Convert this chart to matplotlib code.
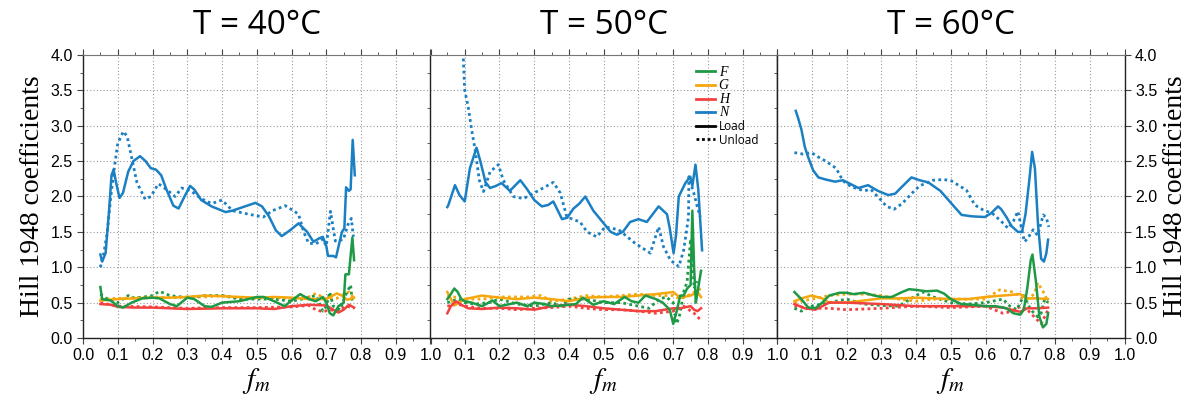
import numpy as np
import matplotlib.pyplot as plt
from matplotlib.ticker import MultipleLocator
from matplotlib.lines import Line2D

plt.rcParams["mathtext.fontset"] = "stix"
plt.rcParams["font.family"] = ["Liberation Sans", "DejaVu Sans"]

# ---------------------------------------------------------------------------
# Data: (f_m, value) pairs for each coefficient
# ---------------------------------------------------------------------------
temps = ["40", "50", "60"]
coef_names = ["F", "G", "H", "N"]
colors = {"F": "#1e9a46", "G": "#f5a70d", "H": "#f2423f", "N": "#1a7fc3"}

# T = 40 C
N40_load = [(0.05, 1.18), (0.055, 1.08), (0.065, 1.2), (0.075, 1.8), (0.082, 2.3), (0.088, 2.38),
            (0.095, 2.2), (0.105, 1.98), (0.115, 2.05), (0.13, 2.35), (0.145, 2.5), (0.164, 2.57),
            (0.18, 2.5), (0.195, 2.4), (0.21, 2.38), (0.225, 2.3), (0.24, 2.1), (0.26, 1.87),
            (0.275, 1.83), (0.29, 1.98), (0.308, 2.15), (0.32, 2.1), (0.34, 1.95), (0.37, 1.86),
            (0.39, 1.82), (0.41, 1.78), (0.43, 1.8), (0.46, 1.85), (0.496, 1.91), (0.515, 1.86),
            (0.535, 1.72), (0.555, 1.52), (0.572, 1.44), (0.595, 1.52), (0.62, 1.62), (0.645, 1.5),
            (0.663, 1.36), (0.68, 1.41), (0.69, 1.43), (0.7, 1.3), (0.705, 1.16), (0.72, 1.16),
            (0.728, 1.14), (0.745, 1.5), (0.752, 1.55), (0.757, 2.13), (0.765, 2.08), (0.77, 2.1),
            (0.776, 2.8), (0.782, 2.3)]
N40_unload = [(0.05, 1.0), (0.06, 1.2), (0.07, 1.5), (0.08, 2.0), (0.09, 2.4), (0.1, 2.75),
              (0.116, 2.92), (0.127, 2.85), (0.14, 2.55), (0.155, 2.2), (0.179, 1.96), (0.195, 2.0),
              (0.217, 2.18), (0.24, 2.1), (0.265, 2.0), (0.284, 2.12), (0.31, 2.08), (0.34, 1.97),
              (0.37, 1.9), (0.4, 1.95), (0.43, 1.8), (0.476, 1.75), (0.519, 1.71), (0.545, 1.8),
              (0.582, 1.87), (0.605, 1.8), (0.62, 1.75), (0.635, 1.5), (0.649, 1.34), (0.67, 1.33),
              (0.69, 1.4), (0.7, 1.3), (0.712, 1.79), (0.726, 1.37), (0.749, 1.39), (0.762, 1.6),
              (0.772, 1.69), (0.778, 1.43)]
G40_load = [(0.05, 0.53), (0.1, 0.55), (0.15, 0.56), (0.2, 0.57), (0.25, 0.57), (0.3, 0.58),
            (0.35, 0.6), (0.4, 0.59), (0.45, 0.58), (0.5, 0.57), (0.55, 0.58), (0.6, 0.57),
            (0.65, 0.55), (0.7, 0.55), (0.73, 0.63), (0.745, 0.6), (0.76, 0.54), (0.78, 0.57)]
G40_unload = [(0.05, 0.55), (0.1, 0.56), (0.15, 0.57), (0.2, 0.58), (0.25, 0.57), (0.3, 0.58),
              (0.35, 0.58), (0.4, 0.6), (0.45, 0.57), (0.5, 0.56), (0.55, 0.57), (0.6, 0.56),
              (0.65, 0.58), (0.67, 0.63), (0.7, 0.55), (0.73, 0.56), (0.75, 0.62), (0.765, 0.65),
              (0.78, 0.56)]
H40_load = [(0.05, 0.48), (0.08, 0.47), (0.1, 0.44), (0.15, 0.43), (0.2, 0.43), (0.3, 0.41),
            (0.4, 0.42), (0.5, 0.42), (0.55, 0.41), (0.6, 0.45), (0.65, 0.47), (0.7, 0.46),
            (0.72, 0.4), (0.735, 0.36), (0.75, 0.4), (0.765, 0.47), (0.78, 0.43)]
H40_unload = [(0.05, 0.5), (0.1, 0.45), (0.2, 0.44), (0.3, 0.42), (0.4, 0.43), (0.5, 0.43),
              (0.6, 0.44), (0.65, 0.46), (0.67, 0.4), (0.69, 0.37), (0.71, 0.4), (0.73, 0.38),
              (0.76, 0.45), (0.78, 0.42)]
F40_load = [(0.05, 0.72), (0.055, 0.55), (0.08, 0.53), (0.1, 0.45), (0.115, 0.43), (0.14, 0.5),
            (0.17, 0.56), (0.2, 0.57), (0.22, 0.56), (0.25, 0.48), (0.27, 0.45), (0.3, 0.57),
            (0.32, 0.55), (0.35, 0.45), (0.37, 0.44), (0.4, 0.5), (0.45, 0.52), (0.5, 0.58),
            (0.52, 0.58), (0.55, 0.52), (0.58, 0.45), (0.6, 0.53), (0.625, 0.62), (0.65, 0.55),
            (0.67, 0.52), (0.69, 0.58), (0.7, 0.5), (0.71, 0.35), (0.72, 0.32), (0.735, 0.45),
            (0.75, 0.5), (0.755, 0.9), (0.765, 0.9), (0.775, 1.42), (0.78, 1.1)]
F40_unload = [(0.05, 0.62), (0.07, 0.55), (0.1, 0.5), (0.13, 0.6), (0.15, 0.56), (0.2, 0.6),
              (0.22, 0.66), (0.25, 0.6), (0.3, 0.57), (0.35, 0.6), (0.4, 0.6), (0.45, 0.55),
              (0.5, 0.55), (0.55, 0.55), (0.6, 0.52), (0.63, 0.55), (0.67, 0.6), (0.69, 0.38),
              (0.7, 0.45), (0.71, 0.65), (0.72, 0.45), (0.74, 0.4), (0.755, 0.6), (0.77, 0.75),
              (0.775, 0.5)]

# T = 50 C
N50_load = [(0.05, 1.85), (0.053, 1.88), (0.072, 2.16), (0.085, 2.02), (0.1, 1.93), (0.115, 2.4),
            (0.134, 2.69), (0.145, 2.5), (0.16, 2.2), (0.173, 2.12), (0.19, 2.15), (0.206, 2.19),
            (0.23, 2.08), (0.26, 2.23), (0.28, 2.1), (0.3, 1.95), (0.322, 1.86), (0.34, 1.88),
            (0.355, 1.93), (0.38, 1.68), (0.395, 1.7), (0.413, 1.83), (0.43, 1.9), (0.447, 2.0),
            (0.47, 1.8), (0.5, 1.62), (0.52, 1.5), (0.538, 1.46), (0.555, 1.5), (0.576, 1.64),
            (0.6, 1.68), (0.624, 1.64), (0.658, 1.86), (0.682, 1.75), (0.69, 1.55), (0.701, 1.2),
            (0.708, 1.45), (0.716, 2.0), (0.735, 2.19), (0.749, 2.28), (0.755, 2.15), (0.764, 2.45),
            (0.772, 2.1), (0.783, 1.24)]
N50_unload = [(0.096, 3.95), (0.1, 3.5), (0.11, 3.27), (0.12, 2.94), (0.13, 2.66), (0.142, 2.23),
              (0.154, 2.07), (0.173, 2.35), (0.197, 2.45), (0.211, 2.23), (0.24, 2.0), (0.269, 1.97),
              (0.307, 2.07), (0.355, 2.2), (0.375, 2.05), (0.394, 1.71), (0.432, 1.64), (0.452, 1.5),
              (0.48, 1.43), (0.504, 1.57), (0.543, 1.53), (0.59, 1.34), (0.634, 1.2), (0.658, 1.57),
              (0.672, 1.29), (0.692, 1.1), (0.716, 1.01), (0.73, 1.24), (0.744, 1.71), (0.745, 2.28),
              (0.759, 2.05), (0.769, 1.86), (0.778, 1.71)]
G50_load = [(0.05, 0.65), (0.07, 0.46), (0.1, 0.55), (0.15, 0.6), (0.2, 0.57), (0.25, 0.55),
            (0.3, 0.57), (0.35, 0.55), (0.4, 0.52), (0.45, 0.57), (0.5, 0.58), (0.55, 0.58),
            (0.6, 0.6), (0.65, 0.62), (0.7, 0.65), (0.72, 0.57), (0.75, 0.6), (0.77, 0.65),
            (0.78, 0.58)]
G50_unload = [(0.05, 0.6), (0.1, 0.55), (0.15, 0.55), (0.2, 0.58), (0.28, 0.58), (0.32, 0.6),
              (0.35, 0.52), (0.4, 0.55), (0.45, 0.6), (0.5, 0.58), (0.55, 0.6), (0.6, 0.62),
              (0.65, 0.6), (0.7, 0.6), (0.72, 0.55), (0.75, 0.62), (0.78, 0.7)]
H50_load = [(0.05, 0.35), (0.06, 0.45), (0.075, 0.52), (0.09, 0.47), (0.11, 0.42), (0.15, 0.41),
            (0.2, 0.43), (0.25, 0.42), (0.3, 0.4), (0.35, 0.45), (0.4, 0.47), (0.45, 0.45),
            (0.5, 0.42), (0.55, 0.4), (0.6, 0.38), (0.65, 0.38), (0.7, 0.42), (0.72, 0.42),
            (0.75, 0.45), (0.76, 0.4), (0.77, 0.38), (0.78, 0.42)]
H50_unload = [(0.05, 0.45), (0.08, 0.48), (0.1, 0.45), (0.15, 0.42), (0.2, 0.42), (0.25, 0.4),
              (0.3, 0.42), (0.35, 0.43), (0.4, 0.45), (0.45, 0.42), (0.5, 0.4), (0.55, 0.4),
              (0.6, 0.38), (0.65, 0.35), (0.7, 0.38), (0.73, 0.45), (0.76, 0.35), (0.78, 0.25)]
F50_load = [(0.05, 0.55), (0.06, 0.62), (0.07, 0.7), (0.08, 0.65), (0.09, 0.55), (0.1, 0.52),
            (0.12, 0.5), (0.15, 0.45), (0.18, 0.53), (0.2, 0.45), (0.23, 0.48), (0.25, 0.5),
            (0.28, 0.45), (0.3, 0.5), (0.33, 0.48), (0.35, 0.45), (0.38, 0.46), (0.4, 0.47),
            (0.42, 0.48), (0.44, 0.57), (0.47, 0.47), (0.5, 0.52), (0.53, 0.48), (0.56, 0.58),
            (0.58, 0.52), (0.6, 0.5), (0.62, 0.6), (0.65, 0.55), (0.67, 0.5), (0.69, 0.4),
            (0.7, 0.2), (0.71, 0.38), (0.72, 0.6), (0.73, 0.6), (0.74, 0.7), (0.75, 0.75),
            (0.755, 1.8), (0.76, 1.0), (0.765, 0.5), (0.77, 0.65), (0.78, 0.95)]
F50_unload = [(0.05, 0.5), (0.08, 0.55), (0.1, 0.5), (0.13, 0.48), (0.17, 0.5), (0.2, 0.55),
              (0.25, 0.48), (0.3, 0.45), (0.35, 0.5), (0.38, 0.45), (0.4, 0.55), (0.45, 0.55),
              (0.5, 0.5), (0.55, 0.5), (0.6, 0.45), (0.63, 0.42), (0.66, 0.55), (0.68, 0.58),
              (0.7, 0.5), (0.71, 0.2), (0.72, 0.35), (0.73, 0.65), (0.74, 0.8), (0.75, 1.4),
              (0.755, 1.2), (0.76, 0.7), (0.77, 0.8)]

# T = 60 C
N60_load = [(0.054, 3.21), (0.06, 3.12), (0.07, 2.95), (0.08, 2.7), (0.09, 2.55), (0.104, 2.37),
            (0.119, 2.27), (0.14, 2.24), (0.167, 2.21), (0.19, 2.23), (0.21, 2.18), (0.234, 2.12),
            (0.262, 2.16), (0.29, 2.08), (0.32, 2.02), (0.34, 2.04), (0.36, 2.14), (0.387, 2.27),
            (0.41, 2.23), (0.435, 2.2), (0.47, 2.08), (0.502, 1.9), (0.531, 1.74), (0.56, 1.72),
            (0.598, 1.71), (0.615, 1.76), (0.636, 1.86), (0.645, 1.82), (0.66, 1.71), (0.675, 1.58),
            (0.693, 1.5), (0.705, 1.5), (0.715, 1.75), (0.727, 2.28), (0.734, 2.63), (0.742, 2.4),
            (0.751, 1.6), (0.76, 1.12), (0.768, 1.08), (0.775, 1.2), (0.78, 1.39)]
N60_unload = [(0.05, 2.62), (0.075, 2.6), (0.099, 2.62), (0.118, 2.56), (0.14, 2.5), (0.17, 2.4),
              (0.19, 2.22), (0.213, 2.14), (0.25, 2.08), (0.27, 2.1), (0.299, 1.95), (0.315, 1.86),
              (0.337, 1.82), (0.36, 1.9), (0.387, 2.04), (0.41, 2.15), (0.449, 2.23), (0.48, 2.24),
              (0.502, 2.22), (0.525, 2.15), (0.545, 2.09), (0.569, 1.88), (0.593, 1.81), (0.62, 1.76),
              (0.645, 1.65), (0.665, 1.55), (0.68, 1.65), (0.693, 1.79), (0.712, 1.36), (0.72, 1.4),
              (0.737, 1.53), (0.75, 1.45), (0.766, 1.74), (0.775, 1.7), (0.782, 1.57)]
G60_load = [(0.05, 0.52), (0.07, 0.56), (0.1, 0.6), (0.13, 0.56), (0.15, 0.5), (0.2, 0.5),
            (0.25, 0.53), (0.3, 0.56), (0.35, 0.56), (0.4, 0.57), (0.45, 0.56), (0.5, 0.55),
            (0.55, 0.55), (0.6, 0.58), (0.65, 0.6), (0.7, 0.62), (0.72, 0.56), (0.75, 0.56),
            (0.78, 0.55)]
G60_unload = [(0.05, 0.5), (0.1, 0.55), (0.15, 0.6), (0.2, 0.62), (0.25, 0.62), (0.3, 0.6),
              (0.35, 0.55), (0.4, 0.52), (0.45, 0.55), (0.5, 0.55), (0.55, 0.55), (0.6, 0.55),
              (0.64, 0.68), (0.68, 0.65), (0.7, 0.58), (0.72, 0.55), (0.74, 0.62), (0.75, 0.78),
              (0.76, 0.7), (0.77, 0.62), (0.78, 0.5)]
H60_load = [(0.05, 0.48), (0.08, 0.42), (0.11, 0.4), (0.13, 0.45), (0.15, 0.5), (0.2, 0.5),
            (0.3, 0.48), (0.4, 0.45), (0.5, 0.45), (0.6, 0.45), (0.65, 0.43), (0.7, 0.37),
            (0.72, 0.42), (0.75, 0.42), (0.78, 0.43)]
H60_unload = [(0.05, 0.45), (0.1, 0.42), (0.15, 0.42), (0.2, 0.4), (0.3, 0.42), (0.4, 0.45),
              (0.5, 0.43), (0.6, 0.45), (0.65, 0.35), (0.68, 0.38), (0.7, 0.45), (0.72, 0.4),
              (0.74, 0.3), (0.76, 0.2), (0.77, 0.3), (0.78, 0.4)]
F60_load = [(0.05, 0.65), (0.07, 0.55), (0.09, 0.43), (0.11, 0.42), (0.13, 0.5), (0.15, 0.6),
            (0.18, 0.64), (0.2, 0.64), (0.22, 0.62), (0.25, 0.64), (0.28, 0.6), (0.3, 0.58),
            (0.33, 0.58), (0.36, 0.65), (0.38, 0.69), (0.4, 0.68), (0.43, 0.66), (0.46, 0.67),
            (0.48, 0.63), (0.5, 0.55), (0.53, 0.48), (0.56, 0.47), (0.6, 0.45), (0.63, 0.45),
            (0.66, 0.42), (0.68, 0.35), (0.7, 0.33), (0.71, 0.4), (0.72, 0.7), (0.73, 1.1),
            (0.735, 1.18), (0.745, 0.8), (0.755, 0.3), (0.765, 0.15), (0.775, 0.2), (0.78, 0.35)]
F60_unload = [(0.05, 0.42), (0.07, 0.38), (0.1, 0.45), (0.15, 0.5), (0.2, 0.55), (0.25, 0.48),
              (0.3, 0.46), (0.35, 0.45), (0.4, 0.6), (0.42, 0.65), (0.45, 0.58), (0.5, 0.5),
              (0.55, 0.48), (0.6, 0.5), (0.65, 0.55), (0.67, 0.45), (0.69, 0.4), (0.7, 0.5),
              (0.71, 0.6), (0.73, 0.4), (0.75, 0.3), (0.76, 0.35), (0.77, 0.55), (0.78, 0.5)]

panels = {
    "40": {"F": (F40_load, F40_unload), "G": (G40_load, G40_unload),
           "H": (H40_load, H40_unload), "N": (N40_load, N40_unload)},
    "50": {"F": (F50_load, F50_unload), "G": (G50_load, G50_unload),
           "H": (H50_load, H50_unload), "N": (N50_load, N50_unload)},
    "60": {"F": (F60_load, F60_unload), "G": (G60_load, G60_unload),
           "H": (H60_load, H60_unload), "N": (N60_load, N60_unload)},
}

# ---------------------------------------------------------------------------
# Figure: three panels sharing edges
# ---------------------------------------------------------------------------
fig = plt.figure(figsize=(12.03, 4.07), dpi=100)
lefts = [0.069, 0.3574, 0.6459]
width = 0.2889
bottom, height = 0.1695, 0.6954

for i, T in enumerate(temps):
    ax = fig.add_axes([lefts[i], bottom, width, height])
    for name in ["G", "H", "F", "N"]:
        load, unload = panels[T][name]
        xl, yl = zip(*load)
        xu, yu = zip(*unload)
        ax.plot(xu, yu, color=colors[name], lw=2.0, ls=(0, (1, 1.2)), zorder=2)
        ax.plot(xl, yl, color=colors[name], lw=1.8, zorder=3)

    ax.set_xlim(0, 1)
    ax.set_ylim(0, 4)
    ax.xaxis.set_minor_locator(MultipleLocator(0.05))
    ax.yaxis.set_minor_locator(MultipleLocator(0.25))
    ax.grid(True, which="major", color="#9a9a9a", ls=(0, (1, 2)), lw=0.8)
    ax.tick_params(which="both", direction="out", top=True, labeltop=False,
                   color="#444444", labelsize=11.5)
    ax.tick_params(which="major", length=4)
    ax.tick_params(which="minor", length=2.5)

    xt = np.round(np.arange(0, 1.01, 0.1), 1)
    ax.set_xticks(xt)
    if i == 0:
        ax.set_xticklabels([f"{v:.1f}" for v in xt])
    else:
        ax.set_xticklabels([""] + [f"{v:.1f}" for v in xt[1:]])

    yt = np.arange(0, 4.01, 0.5)
    ax.set_yticks(yt)
    ax.set_yticklabels([f"{v:.1f}" for v in yt])

    if i == 0:
        ax.tick_params(axis="y", left=True, right=False, labelleft=True)
    elif i == 1:
        ax.tick_params(axis="y", left=False, right=False, labelleft=False)
    else:
        ax.tick_params(axis="y", left=False, right=True, labelleft=False, labelright=True)
        ax.yaxis.set_label_position("right")

    for side in ["left", "right", "bottom"]:
        ax.spines[side].set_color("#222222")
        ax.spines[side].set_linewidth(1.0)
    ax.spines["top"].set_color("#777777")

    if i in (0, 2):
        ax.set_ylabel("Hill 1948 coefficients", family="Liberation Serif", fontsize=20,
                      labelpad=4)
    ax.set_xlabel(r"$f_m$", fontsize=21, labelpad=2)
    ax.set_title(f"T = {T}°C", family="Open Sans", fontsize=24, pad=15)

    if i == 1:
        handles = [Line2D([], [], color=colors[n], lw=2) for n in coef_names]
        handles += [Line2D([], [], color="black", lw=2),
                    Line2D([], [], color="black", lw=2, ls=(0, (1, 1)))]
        labels = coef_names + ["Load", "Unload"]
        leg = ax.legend(handles, labels, loc="upper right", bbox_to_anchor=(0.975, 1.0),
                        frameon=False, handlelength=1.6, handletextpad=0.3,
                        labelspacing=0.05, prop={"family": "Open Sans", "size": 8.5})
        for txt in leg.get_texts()[:4]:
            txt.set_fontfamily("Liberation Serif")
            txt.set_fontstyle("italic")
            txt.set_fontsize(10)

fig.savefig("out.png", dpi=100)
